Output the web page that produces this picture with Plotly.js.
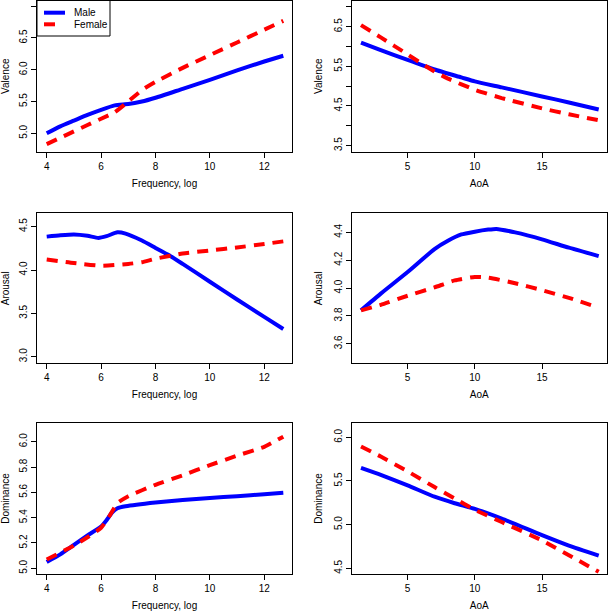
<!DOCTYPE html>
<html>
<head>
<meta charset="utf-8">
<script src="https://cdn.plot.ly/plotly-3.0.1.min.js"></script>
<style>html,body{margin:0;padding:0;background:#fff;}#chart{width:609px;height:613px;}</style>
</head>
<body>
<div id="chart"></div>
<script>
// ---- Data ----
const seriesNames = ['Male', 'Female'];
const freqTicks = [4, 6, 8, 10, 12];
const aoaTicks = [5, 10, 15];

// Valence vs Frequency (log)
const valFreqMaleX = [4, 4.5, 5, 5.5, 6, 6.5, 6.8, 7, 7.5, 8, 9, 10, 11, 12, 12.7];
const valFreqMaleY = [5.00, 5.11, 5.20, 5.29, 5.37, 5.44, 5.455, 5.46, 5.50, 5.56, 5.70, 5.84, 5.99, 6.13, 6.22];
const valFreqFemaleX = [4, 4.5, 5, 5.5, 6, 6.5, 7, 7.5, 8, 9, 10, 11, 12, 12.7];
const valFreqFemaleY = [4.83, 4.93, 5.03, 5.13, 5.23, 5.33, 5.50, 5.68, 5.81, 6.03, 6.23, 6.43, 6.63, 6.77];

// Valence vs AoA
const valAoaMaleX = [1.53, 3, 5, 7, 9, 10, 12, 15, 17, 19.22];
const valAoaMaleY = [6.10, 5.91, 5.66, 5.42, 5.22, 5.12, 4.97, 4.74, 4.59, 4.41];
const valAoaFemaleX = [1.53, 3, 5, 6, 7, 8, 10, 12, 15, 17, 19.22];
const valAoaFemaleY = [6.54, 6.23, 5.80, 5.58, 5.37, 5.19, 4.91, 4.70, 4.44, 4.29, 4.14];

// Arousal vs Frequency (log)
const aroFreqMaleX = [4, 4.5, 5, 5.5, 5.9, 6.2, 6.6, 6.9, 7.5, 8, 8.5, 9, 10, 11, 12, 12.7];
const aroFreqMaleY = [4.385, 4.40, 4.41, 4.395, 4.37, 4.39, 4.435, 4.42, 4.34, 4.255, 4.17, 4.07, 3.865, 3.66, 3.46, 3.32];
const aroFreqFemaleX = [4, 5, 6, 7, 7.5, 8, 9, 10, 11, 12, 12.7];
const aroFreqFemaleY = [4.12, 4.08, 4.05, 4.07, 4.09, 4.13, 4.19, 4.225, 4.26, 4.30, 4.33];

// Arousal vs AoA
const aroAoaMaleX = [1.53, 3, 5, 7, 8, 9, 10, 11, 11.6, 13, 15, 17, 19.22];
const aroAoaMaleY = [3.84, 3.96, 4.115, 4.28, 4.34, 4.385, 4.405, 4.42, 4.425, 4.40, 4.35, 4.29, 4.23];
const aroAoaFemaleX = [1.53, 3, 5, 7, 8.5, 10, 11, 13, 15, 17, 19.22];
const aroAoaFemaleY = [3.84, 3.88, 3.945, 4.005, 4.055, 4.08, 4.075, 4.035, 3.985, 3.93, 3.86];

// Dominance vs Frequency (log)
const domFreqMaleX = [4, 4.5, 5, 5.5, 6, 6.2, 6.4, 6.6, 6.9, 8, 9, 10, 11, 12, 12.7];
const domFreqMaleY = [5.05, 5.11, 5.185, 5.26, 5.33, 5.38, 5.44, 5.475, 5.49, 5.52, 5.54, 5.555, 5.57, 5.585, 5.597];
const domFreqFemaleX = [4, 5, 5.5, 6, 6.3, 6.6, 7, 8, 9, 10, 11, 12, 12.7];
const domFreqFemaleY = [5.07, 5.18, 5.245, 5.32, 5.41, 5.515, 5.57, 5.66, 5.735, 5.815, 5.89, 5.96, 6.04];

// Dominance vs AoA
const domAoaMaleX = [1.53, 3, 5, 7, 8.5, 10, 12, 15, 17, 19.22];
const domAoaMaleY = [5.65, 5.57, 5.45, 5.32, 5.245, 5.18, 5.07, 4.88, 4.76, 4.645];
const domAoaFemaleX = [1.53, 3, 5, 7, 8.5, 10, 12, 15, 17, 19.22];
const domAoaFemaleY = [5.895, 5.78, 5.61, 5.43, 5.30, 5.17, 5.03, 4.82, 4.65, 4.46];

// y tick values and labels per panel
const yTicks1 = [5.0, 5.5, 6.0, 6.5, 7.0];
const yLabels1 = ['5.0', '5.5', '6.0', '6.5', '7.0'];
const yTicks2 = [3.5, 4.0, 4.5, 5.0, 5.5, 6.0, 6.5, 7.0];
const yLabels2 = ['3.5', '', '4.5', '', '5.5', '', '6.5', ''];
const yTicks3 = [3.0, 3.5, 4.0, 4.5];
const yLabels3 = ['3.0', '3.5', '4.0', '4.5'];
const yTicks4 = [3.6, 3.8, 4.0, 4.2, 4.4];
const yLabels4 = ['3.6', '3.8', '4.0', '4.2', '4.4'];
const yTicks5 = [5.0, 5.2, 5.4, 5.6, 5.8, 6.0];
const yLabels5 = ['5.0', '5.2', '5.4', '5.6', '5.8', '6.0'];
const yTicks6 = [4.5, 5.0, 5.5, 6.0];
const yLabels6 = ['4.5', '5.0', '5.5', '6.0'];

// ---- Build ----
const FONT = 'Liberation Sans, Arial, Helvetica, sans-serif';
const MALE_COLOR = '#0000ff', FEMALE_COLOR = '#ff0000';
const maleLine = {color: MALE_COLOR, width: 4, shape: 'spline', smoothing: 0.5};
const femaleLine = {color: FEMALE_COLOR, width: 4, dash: '11px,8px', shape: 'spline', smoothing: 0.5};

const panels = [
  {mx: valFreqMaleX, my: valFreqMaleY, fx: valFreqFemaleX, fy: valFreqFemaleY},
  {mx: valAoaMaleX, my: valAoaMaleY, fx: valAoaFemaleX, fy: valAoaFemaleY},
  {mx: aroFreqMaleX, my: aroFreqMaleY, fx: aroFreqFemaleX, fy: aroFreqFemaleY},
  {mx: aroAoaMaleX, my: aroAoaMaleY, fx: aroAoaFemaleX, fy: aroAoaFemaleY},
  {mx: domFreqMaleX, my: domFreqMaleY, fx: domFreqFemaleX, fy: domFreqFemaleY},
  {mx: domAoaMaleX, my: domAoaMaleY, fx: domAoaFemaleX, fy: domAoaFemaleY}
];

const traces = [];
panels.forEach((p, i) => {
  const n = i === 0 ? '' : String(i + 1);
  traces.push({x: p.mx, y: p.my, type: 'scatter', mode: 'lines', name: seriesNames[0],
    line: maleLine, xaxis: 'x' + n, yaxis: 'y' + n, showlegend: false, hoverinfo: 'skip'});
  traces.push({x: p.fx, y: p.fy, type: 'scatter', mode: 'lines', name: seriesNames[1],
    line: femaleLine, xaxis: 'x' + n, yaxis: 'y' + n, showlegend: false, hoverinfo: 'skip'});
});

const W = 609, H = 613;
const px = v => v / W;          // paper x from pixel
const py = v => 1 - v / H;      // paper y from pixel
const colX = [[px(37), px(292)], [px(352), px(606.5)]];
const rowY = [[py(152), py(0.5)], [py(363.3), py(213.3)], [py(574), py(423)]];

const base = {
  showline: true, linecolor: 'black', linewidth: 1, mirror: true,
  ticks: 'outside', ticklen: 5, tickwidth: 1, tickcolor: 'black',
  showgrid: false, zeroline: false, automargin: false, fixedrange: true,
  tickfont: {family: FONT, size: 10, color: 'black'}
};

function xa(i, range, ticks, title) {
  const c = i % 2;
  return Object.assign({}, base, {
    domain: colX[c], range: range, tickmode: 'array', tickvals: ticks, ticktext: ticks.map(String),
    anchor: 'y' + (i === 0 ? '' : i + 1),
    title: {text: title, font: {family: FONT, size: 10, color: 'black'}, standoff: 8}
  });
}
function ya(i, range, ticks, labels, title) {
  const r = Math.floor(i / 2);
  return Object.assign({}, base, {
    domain: rowY[r], range: range, tickmode: 'array', tickvals: ticks, ticktext: labels,
    tickangle: -90,
    anchor: 'x' + (i === 0 ? '' : i + 1),
    title: {text: title, font: {family: FONT, size: 10, color: 'black'}, standoff: 8}
  });
}

// Hand-drawn legend box (top-left of the first panel), as in the R original
const legendShapes = [
  {type: 'rect', xref: 'paper', yref: 'paper', x0: px(37), x1: px(110), y0: py(36), y1: py(0.5),
   line: {color: 'black', width: 1}, fillcolor: 'white', layer: 'above'},
  {type: 'line', xref: 'paper', yref: 'paper', x0: px(44), x1: px(65), y0: py(12.7), y1: py(12.7),
   line: {color: MALE_COLOR, width: 4}, layer: 'above'},
  {type: 'line', xref: 'paper', yref: 'paper', x0: px(44), x1: px(55), y0: py(24.3), y1: py(24.3),
   line: {color: FEMALE_COLOR, width: 4}, layer: 'above'}
];
const legendText = [
  {xref: 'paper', yref: 'paper', x: px(72), y: py(12.7), text: seriesNames[0], showarrow: false,
   xanchor: 'left', yanchor: 'middle', font: {family: FONT, size: 10, color: 'black'}},
  {xref: 'paper', yref: 'paper', x: px(72), y: py(24.3), text: seriesNames[1], showarrow: false,
   xanchor: 'left', yanchor: 'middle', font: {family: FONT, size: 10, color: 'black'}}
];

const layout = {
  width: W, height: H,
  margin: {l: 0, r: 0, t: 0, b: 0},
  paper_bgcolor: 'white', plot_bgcolor: 'white',
  font: {family: FONT, size: 10, color: 'black'},
  showlegend: false,
  shapes: legendShapes,
  annotations: legendText,
  xaxis: xa(0, [3.643, 13.02], freqTicks, 'Frequency, log'),
  yaxis: ya(0, [4.706, 7.09], yTicks1, yLabels1, 'Valence'),
  xaxis2: xa(1, [0.86, 19.8], aoaTicks, 'AoA'),
  yaxis2: ya(1, [3.34, 7.16], yTicks2, yLabels2, 'Valence'),
  xaxis3: xa(2, [3.643, 13.02], freqTicks, 'Frequency, log'),
  yaxis3: ya(2, [2.924, 4.654], yTicks3, yLabels3, 'Arousal'),
  xaxis4: xa(3, [0.86, 19.8], aoaTicks, 'AoA'),
  yaxis4: ya(3, [3.46, 4.537], yTicks4, yLabels4, 'Arousal'),
  xaxis5: xa(4, [3.643, 13.02], freqTicks, 'Frequency, log'),
  yaxis5: ya(4, [4.955, 6.148], yTicks5, yLabels5, 'Dominance'),
  xaxis6: xa(5, [0.86, 19.8], aoaTicks, 'AoA'),
  yaxis6: ya(5, [4.435, 6.164], yTicks6, yLabels6, 'Dominance')
};

Plotly.newPlot('chart', traces, layout, {staticPlot: true, displayModeBar: false});
</script>
</body>
</html>
